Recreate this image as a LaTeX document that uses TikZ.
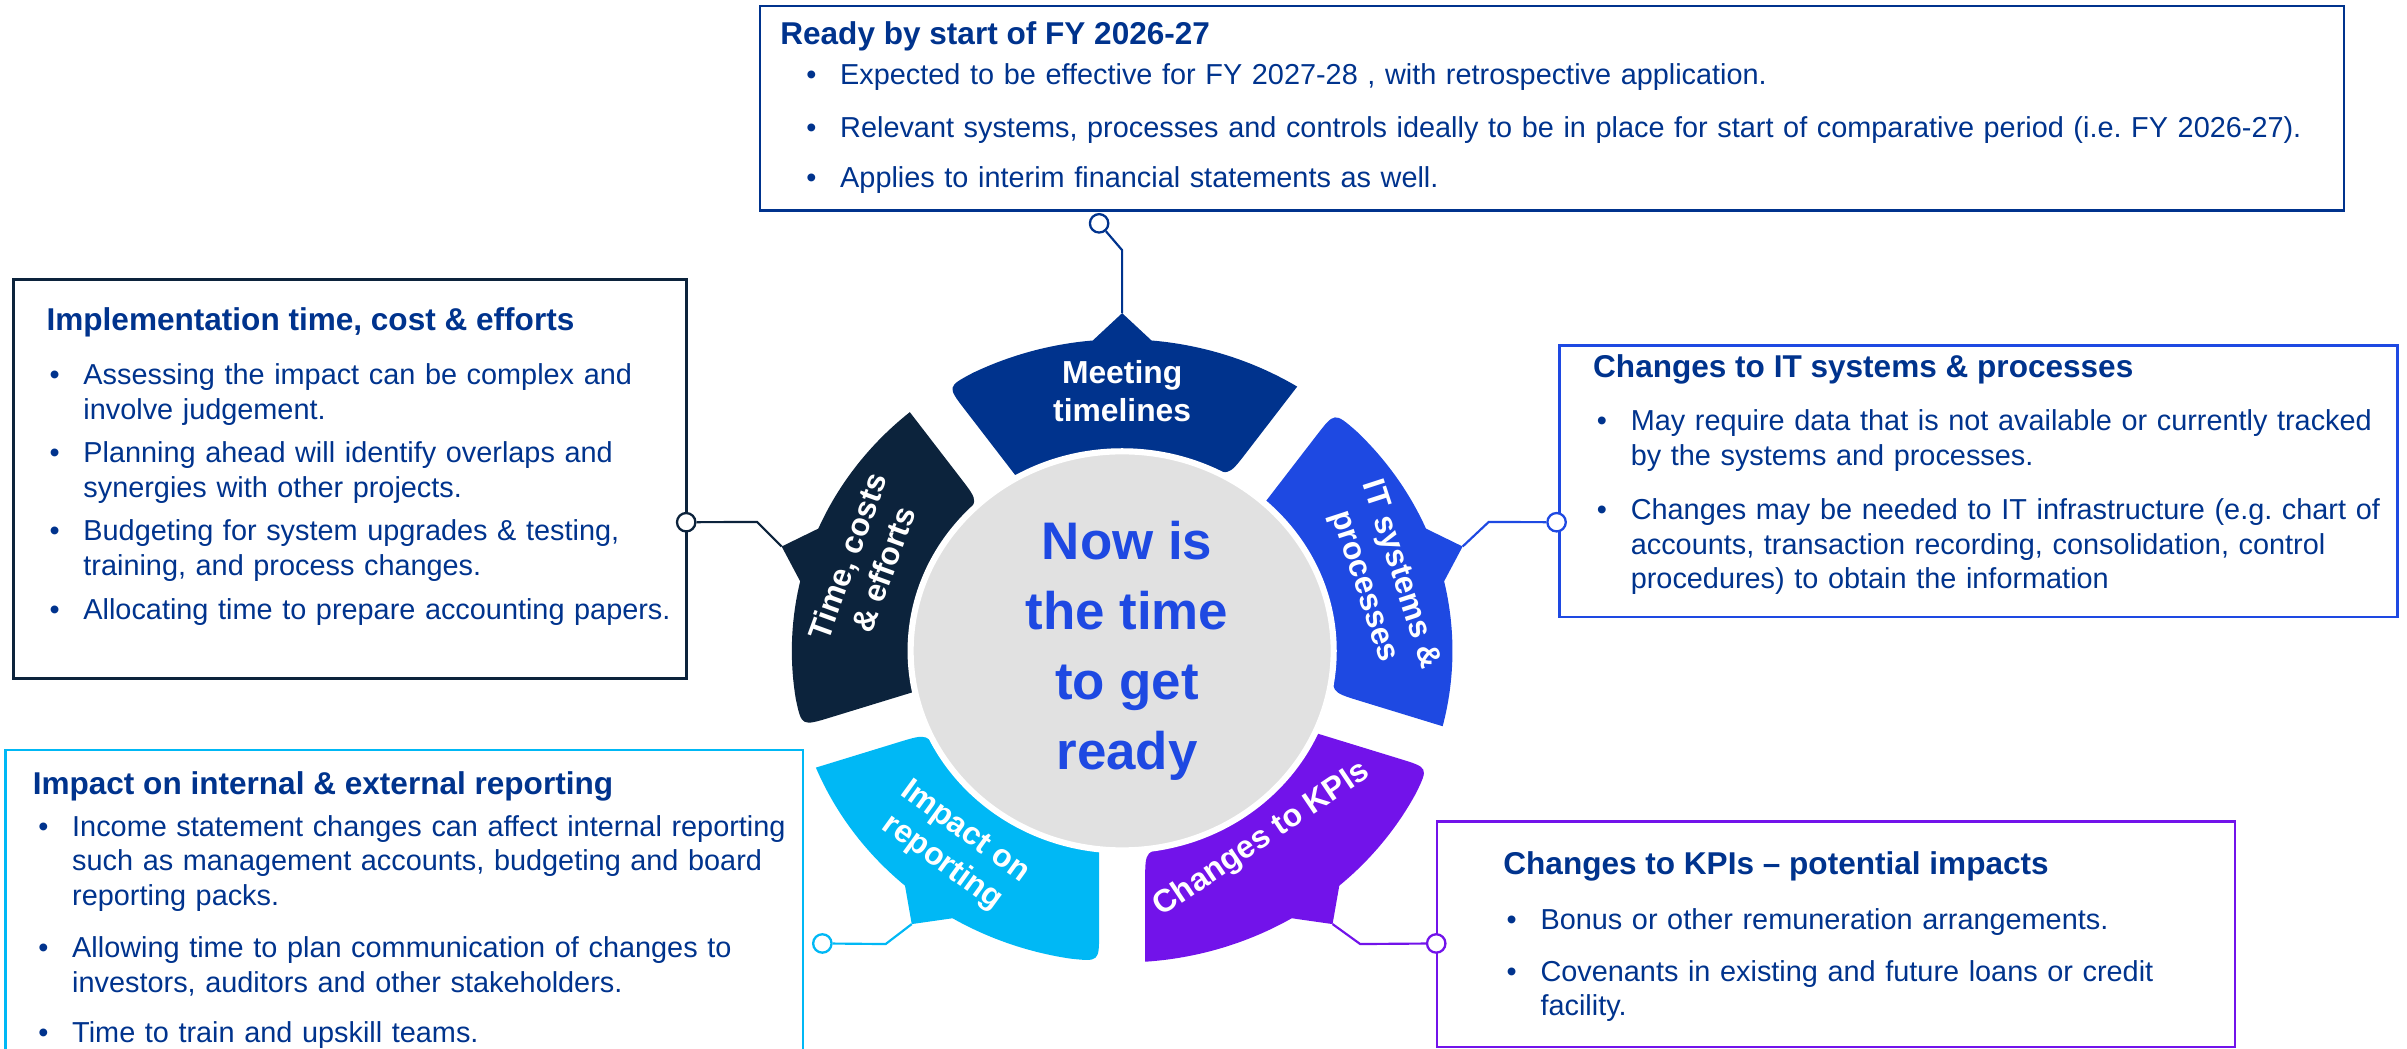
\documentclass[tikz,border=0pt]{standalone}
\usepackage{fontspec}
\setmainfont{Liberation Sans}
\usetikzlibrary{calc}

\definecolor{meetblue}{HTML}{00338D}
\definecolor{timenavy}{HTML}{0C233C}
\definecolor{itblue}{HTML}{1E49E2}
\definecolor{impcyan}{HTML}{00B8F5}
\definecolor{kpipurple}{HTML}{7213EA}
\definecolor{circgrey}{HTML}{E1E1E1}

\newcommand{\bul}{\llap{•\hspace{0.31cm}}}
\frenchspacing

\begin{document}
\begin{tikzpicture}[x=0.02cm, y=0.02cm,
    txt/.style={anchor=base west, inner sep=0, text=meetblue, text width=#1, align=left,
        font=\fontsize{10.7}{12.9}\selectfont},
    ttl/.style={anchor=base west, inner sep=0, text=meetblue, font=\fontsize{11.7}{14}\selectfont\bfseries},
    seg/.style={text=white, align=center, inner sep=0, font=\fontsize{11.8}{14.2}\selectfont\bfseries},
    bigtxt/.style={text=itblue, align=center, inner sep=0, font=\fontsize{19.6}{26}\selectfont\bfseries},
    knob/.style={circle, draw=#1, fill=white, line width=0.85pt, minimum size=0.24cm, inner sep=0},
    link/.style={draw=#1, line width=0.8pt},
    panel/.style={draw=#1, line width=1pt}]

    % the frame
    \useasboundingbox (0,0) rectangle (1568,683);

    % the boxes
    \draw[panel=meetblue] (495,546) rectangle (1527,679);
    \draw[panel=timenavy] (9,241) rectangle (447,501);
    \draw[panel=itblue] (1016,281) rectangle (1562,458);
    \draw[panel=impcyan] (3.5,-10) rectangle (523,194.5);
    \draw[panel=kpipurple] (936,1) rectangle (1456,148);

    % the wheel
    \begin{scope}[shift={(731,259)}, xscale=1.06]
        \foreach \c/\col/\nm in {90/meetblue/meet, 162/timenavy/time, 18/itblue/it, 234/impcyan/imp, 306/kpipurple/kpi} {
            \coordinate (tip\nm) at (\c:220);
            \fill[\col] ($({\c-29.8}:131)!0.26!({\c-32}:203)$) -- ({\c-32}:203)
                arc[start angle={\c-32}, end angle={\c-5.1}, radius=203] -- (\c:220) -- ({\c+5.1}:203)
                arc[start angle={\c+5.1}, end angle={\c+26.9}, radius=203]
                .. controls ({\c+32}:203) .. ($({\c+32}:203)!0.26!({\c+29.8}:131)$) -- ({\c+29.8}:131)
                arc[start angle={\c+29.8}, end angle={\c-21.9}, radius=131]
                .. controls ({\c-29.8}:131) .. ($({\c-29.8}:131)!0.26!({\c-32}:203)$) -- cycle;
        }
        \filldraw[fill=circgrey, draw=white, line width=0.08cm] (0,0) circle (130);

        \node[bigtxt] (ready) at (3,0) {Now is\\the time\\to get\\ready};
        \node[seg] (lmeet) at (90:169) {Meeting\\timelines};
        \node[seg, rotate=70] (ltime) at (160:168) {Time, costs\\\& efforts};
        \node[seg, rotate=-72] (lit) at (16:166) {IT systems \&\\processes};
        \node[seg, rotate=-36] (limp) at (231:165) {Impact on\\reporting};
        \node[seg, rotate=34] (lkpi) at (305:150) {Changes to KPIs};
    \end{scope}

    % the links
    \node[knob=meetblue] (dmeet) at (716,537.5) {};
    \node[knob=timenavy] (dtime) at (447,342.8) {};
    \node[knob=itblue] (dit) at (1014,342.8) {};
    \node[knob=impcyan] (dimp) at (535.7,68.4) {};
    \node[knob=kpipurple] (dkpi) at (935.6,68.4) {};
    \draw[link=meetblue] (tipmeet) -- ++(0,41) -- (dmeet);
    \draw[link=timenavy] (tiptime) -- ++(-16,16) -- (dtime);
    \draw[link=itblue] (tipit) -- ++(17,16) -- (dit);
    \draw[link=impcyan] (tipimp) -- ++(-17,-13) -- (dimp);
    \draw[link=kpipurple] (tipkpi) -- ++(18,-13) -- (dkpi);

    % top box
    \node[ttl] (thead) at (508,654.3) {Ready by start of FY 2026-27};
    \node[txt=19.3cm] (t1) at (547,628.1) {\bul Expected to be effective for FY 2027-28 , with retrospective application.};
    \node[txt=19.3cm] (t2) at (547,593.4) {\bul Relevant systems, processes and controls ideally to be in place for start of comparative period (i.e. FY 2026-27).};
    \node[txt=19.3cm] (t3) at (547,560.8) {\bul Applies to interim financial statements as well.};

    % left box
    \node[ttl] (lhead) at (30,467.5) {Implementation time, cost \& efforts};
    \node[txt=7.8cm] (l1) at (54,432.7) {\bul Assessing the impact can be complex and\\involve judgement.};
    \node[txt=7.8cm] (l2) at (54,381.6) {\bul Planning ahead will identify overlaps and\\synergies with other projects.};
    \node[txt=7.8cm] (l3) at (54,330.6) {\bul Budgeting for system upgrades \& testing,\\training, and process changes.};
    \node[txt=7.8cm] (l4) at (54,279.5) {\bul Allocating time to prepare accounting papers.};

    % right box
    \node[ttl] (rhead) at (1037.5,437.1) {Changes to IT systems \& processes};
    \node[txt=9.9cm] (r1) at (1062,402.3) {\bul May require data that is not available or currently tracked\\by the systems and processes.};
    \node[txt=9.9cm] (r2) at (1062,344.7) {\bul Changes may be needed to IT infrastructure (e.g. chart of\\accounts, transaction recording, consolidation, control\\procedures) to obtain the information};

    % bottom left box
    \node[ttl] (bhead) at (21,165.6) {Impact on internal \& external reporting};
    \node[txt=9.5cm] (b1) at (46.7,138.4) {\bul Income statement changes can affect internal reporting\\such as management accounts, budgeting and board\\reporting packs.};
    \node[txt=9.5cm] (b2) at (46.7,59.1) {\bul Allowing time to plan communication of changes to\\investors, auditors and other stakeholders.};
    \node[txt=9.5cm] (b3) at (46.7,3.7) {\bul Time to train and upskill teams.};

    % bottom right box
    \node[ttl] (khead) at (979,113.5) {Changes to KPIs – potential impacts};
    \node[txt=8cm] (k1) at (1003.2,77.6) {\bul Bonus or other remuneration arrangements.};
    \node[txt=8cm] (k2) at (1003.2,43.9) {\bul Covenants in existing and future loans or credit\\facility.};
\end{tikzpicture}
\end{document}
